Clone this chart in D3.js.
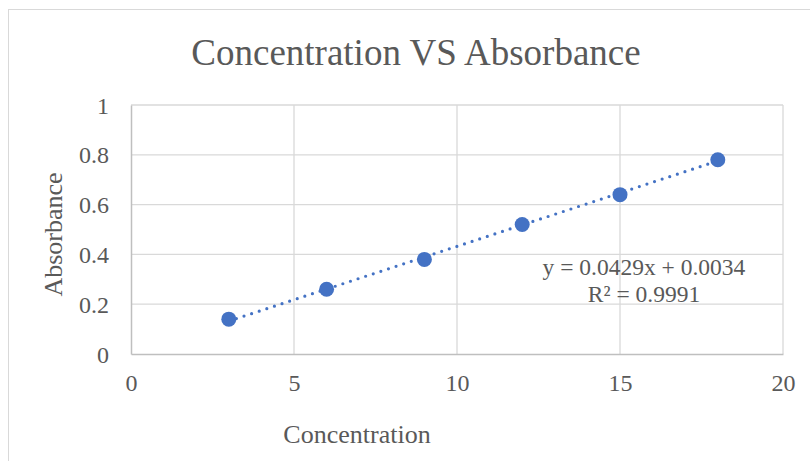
<!DOCTYPE html>
<html><head><meta charset="utf-8">
<script src="https://cdn.jsdelivr.net/npm/d3@7"></script>
<style>body{margin:0;background:#fff}svg{display:block}text{font-family:"Liberation Serif","Times New Roman",serif;fill:#595959}</style>
</head><body><svg id="c" width="810" height="461"></svg>
<script>
const concentration = [3, 6, 9, 12, 15, 18];
const absorbance = [0.14, 0.26, 0.38, 0.52, 0.64, 0.78];
const xTicks = [0, 5, 10, 15, 20];
const yTicks = [0, 0.2, 0.4, 0.6, 0.8, 1];
const slope = 0.0429, intercept = 0.0034, rSquared = 0.9991;
const title = "Concentration VS Absorbance";

const svg = d3.select("#c");
const L = 131, R = 783, T = 105, B = 354;
const x = d3.scaleLinear().domain([0, 20]).range([L, R]);
const y = d3.scaleLinear().domain([0, 1]).range([B, T]);

svg.append("rect").attr("x", 8.5).attr("y", 9.5).attr("width", 830).attr("height", 480)
  .attr("fill", "none").attr("stroke", "#d9d9d9");

// gridlines
svg.append("g").selectAll("line").data(yTicks.filter(d => d > 0)).join("line")
  .attr("x1", L).attr("x2", R).attr("y1", d => y(d)).attr("y2", d => y(d))
  .attr("stroke", "#d9d9d9").attr("stroke-width", 1.3);
svg.append("g").selectAll("line").data(xTicks.filter(d => d > 0)).join("line")
  .attr("y1", T).attr("y2", B).attr("x1", d => x(d)).attr("x2", d => x(d))
  .attr("stroke", "#d9d9d9").attr("stroke-width", 1.3);

// axes
const xAxis = svg.append("g").attr("transform", `translate(0,${B})`)
  .call(d3.axisBottom(x).tickValues(xTicks).tickSize(0).tickFormat(d3.format("d")));
const yAxis = svg.append("g").attr("transform", `translate(${L},0)`)
  .call(d3.axisLeft(y).tickValues(yTicks).tickSize(0).tickFormat(d => d === 0 || d === 1 ? String(d) : d3.format(".1f")(d)));
[xAxis, yAxis].forEach(g => {
  g.select(".domain").attr("stroke", "#bfbfbf").attr("stroke-width", 1.5);
  g.selectAll("text").style("font-family", '"Liberation Serif",serif').style("font-size", "24px").attr("fill", "#595959");
});
xAxis.selectAll("text").attr("dy", null).attr("y", 391 - B);
yAxis.selectAll("text").attr("dy", "0.34em").attr("x", 109 - L);

// trendline
svg.append("line")
  .attr("x1", x(concentration[0])).attr("y1", y(slope * concentration[0] + intercept))
  .attr("x2", x(concentration[concentration.length - 1])).attr("y2", y(slope * concentration[concentration.length - 1] + intercept))
  .attr("stroke", "#4472C4").attr("stroke-width", 3.2).attr("stroke-linecap", "round").attr("stroke-dasharray", "0 8");

// points
svg.append("g").selectAll("circle").data(concentration.map((c, i) => [c, absorbance[i]])).join("circle")
  .attr("cx", d => x(d[0])).attr("cy", d => y(d[1])).attr("r", 7.5).attr("fill", "#4472C4");

// texts
svg.append("text").attr("x", 416).attr("y", 65).attr("text-anchor", "middle")
  .style("font-size", "37px").text(title);
svg.append("text").attr("x", 357).attr("y", 443).attr("text-anchor", "middle")
  .style("font-size", "26px").text("Concentration");
svg.append("text").attr("transform", "translate(62,234.5) rotate(-90)").attr("text-anchor", "middle")
  .style("font-size", "26px").text("Absorbance");
svg.append("text").attr("x", 644).attr("y", 275).attr("text-anchor", "middle")
  .style("font-size", "23.5px").text(`y = ${slope}x + ${intercept}`);
svg.append("text").attr("x", 644).attr("y", 302).attr("text-anchor", "middle")
  .style("font-size", "23.5px").text(`R² = ${rSquared}`);
</script></body></html>
